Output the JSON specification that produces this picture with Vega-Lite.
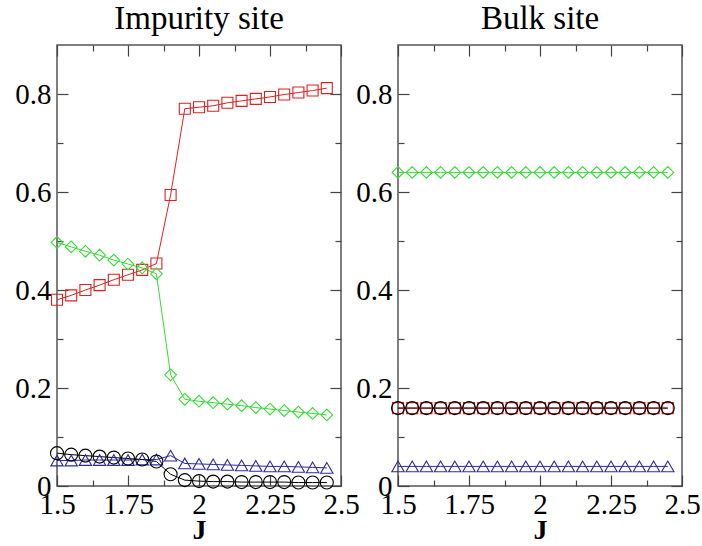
{
  "$schema": "https://vega.github.io/schema/vega-lite/v6.json",
  "padding": {"left": 14, "top": 2, "right": 0, "bottom": 0},
  "background": "white",
  "datasets": {
    "impurity": [
      {"series": "s1", "J": 1.5, "value": 0.380},
      {"series": "s1", "J": 1.55, "value": 0.389},
      {"series": "s1", "J": 1.6, "value": 0.400},
      {"series": "s1", "J": 1.65, "value": 0.410},
      {"series": "s1", "J": 1.7, "value": 0.421},
      {"series": "s1", "J": 1.75, "value": 0.431},
      {"series": "s1", "J": 1.8, "value": 0.441},
      {"series": "s1", "J": 1.85, "value": 0.454},
      {"series": "s1", "J": 1.9, "value": 0.594},
      {"series": "s1", "J": 1.95, "value": 0.770},
      {"series": "s1", "J": 2.0, "value": 0.773},
      {"series": "s1", "J": 2.05, "value": 0.776},
      {"series": "s1", "J": 2.1, "value": 0.782},
      {"series": "s1", "J": 2.15, "value": 0.786},
      {"series": "s1", "J": 2.2, "value": 0.790},
      {"series": "s1", "J": 2.25, "value": 0.794},
      {"series": "s1", "J": 2.3, "value": 0.799},
      {"series": "s1", "J": 2.35, "value": 0.803},
      {"series": "s1", "J": 2.4, "value": 0.807},
      {"series": "s1", "J": 2.45, "value": 0.812},
      {"series": "s2", "J": 1.5, "value": 0.497},
      {"series": "s2", "J": 1.55, "value": 0.488},
      {"series": "s2", "J": 1.6, "value": 0.479},
      {"series": "s2", "J": 1.65, "value": 0.471},
      {"series": "s2", "J": 1.7, "value": 0.461},
      {"series": "s2", "J": 1.75, "value": 0.453},
      {"series": "s2", "J": 1.8, "value": 0.445},
      {"series": "s2", "J": 1.85, "value": 0.433},
      {"series": "s2", "J": 1.9, "value": 0.227},
      {"series": "s2", "J": 1.95, "value": 0.177},
      {"series": "s2", "J": 2.0, "value": 0.173},
      {"series": "s2", "J": 2.05, "value": 0.170},
      {"series": "s2", "J": 2.1, "value": 0.167},
      {"series": "s2", "J": 2.15, "value": 0.164},
      {"series": "s2", "J": 2.2, "value": 0.160},
      {"series": "s2", "J": 2.25, "value": 0.157},
      {"series": "s2", "J": 2.3, "value": 0.154},
      {"series": "s2", "J": 2.35, "value": 0.151},
      {"series": "s2", "J": 2.4, "value": 0.148},
      {"series": "s2", "J": 2.45, "value": 0.145},
      {"series": "s3", "J": 1.5, "value": 0.052},
      {"series": "s3", "J": 1.55, "value": 0.052},
      {"series": "s3", "J": 1.6, "value": 0.053},
      {"series": "s3", "J": 1.65, "value": 0.053},
      {"series": "s3", "J": 1.7, "value": 0.053},
      {"series": "s3", "J": 1.75, "value": 0.053},
      {"series": "s3", "J": 1.8, "value": 0.054},
      {"series": "s3", "J": 1.85, "value": 0.054},
      {"series": "s3", "J": 1.9, "value": 0.062},
      {"series": "s3", "J": 1.95, "value": 0.046},
      {"series": "s3", "J": 2.0, "value": 0.045},
      {"series": "s3", "J": 2.05, "value": 0.044},
      {"series": "s3", "J": 2.1, "value": 0.043},
      {"series": "s3", "J": 2.15, "value": 0.042},
      {"series": "s3", "J": 2.2, "value": 0.041},
      {"series": "s3", "J": 2.25, "value": 0.040},
      {"series": "s3", "J": 2.3, "value": 0.040},
      {"series": "s3", "J": 2.35, "value": 0.039},
      {"series": "s3", "J": 2.4, "value": 0.038},
      {"series": "s3", "J": 2.45, "value": 0.037},
      {"series": "s4", "J": 1.5, "value": 0.067},
      {"series": "s4", "J": 1.55, "value": 0.064},
      {"series": "s4", "J": 1.6, "value": 0.062},
      {"series": "s4", "J": 1.65, "value": 0.060},
      {"series": "s4", "J": 1.7, "value": 0.058},
      {"series": "s4", "J": 1.75, "value": 0.056},
      {"series": "s4", "J": 1.8, "value": 0.054},
      {"series": "s4", "J": 1.85, "value": 0.050},
      {"series": "s4", "J": 1.9, "value": 0.024},
      {"series": "s4", "J": 1.95, "value": 0.012},
      {"series": "s4", "J": 2.0, "value": 0.010},
      {"series": "s4", "J": 2.05, "value": 0.009},
      {"series": "s4", "J": 2.1, "value": 0.009},
      {"series": "s4", "J": 2.15, "value": 0.008},
      {"series": "s4", "J": 2.2, "value": 0.008},
      {"series": "s4", "J": 2.25, "value": 0.008},
      {"series": "s4", "J": 2.3, "value": 0.008},
      {"series": "s4", "J": 2.35, "value": 0.007},
      {"series": "s4", "J": 2.4, "value": 0.007},
      {"series": "s4", "J": 2.45, "value": 0.007}
    ],
    "bulk": [
      {"series": "s1", "J": 1.5, "value": 0.159}, {"series": "s1", "J": 1.55, "value": 0.159},
      {"series": "s1", "J": 1.6, "value": 0.159}, {"series": "s1", "J": 1.65, "value": 0.159},
      {"series": "s1", "J": 1.7, "value": 0.159}, {"series": "s1", "J": 1.75, "value": 0.159},
      {"series": "s1", "J": 1.8, "value": 0.159}, {"series": "s1", "J": 1.85, "value": 0.159},
      {"series": "s1", "J": 1.9, "value": 0.159}, {"series": "s1", "J": 1.95, "value": 0.159},
      {"series": "s1", "J": 2.0, "value": 0.159}, {"series": "s1", "J": 2.05, "value": 0.159},
      {"series": "s1", "J": 2.1, "value": 0.159}, {"series": "s1", "J": 2.15, "value": 0.159},
      {"series": "s1", "J": 2.2, "value": 0.159}, {"series": "s1", "J": 2.25, "value": 0.159},
      {"series": "s1", "J": 2.3, "value": 0.159}, {"series": "s1", "J": 2.35, "value": 0.159},
      {"series": "s1", "J": 2.4, "value": 0.159}, {"series": "s1", "J": 2.45, "value": 0.159},
      {"series": "s2", "J": 1.5, "value": 0.640}, {"series": "s2", "J": 1.55, "value": 0.640},
      {"series": "s2", "J": 1.6, "value": 0.640}, {"series": "s2", "J": 1.65, "value": 0.640},
      {"series": "s2", "J": 1.7, "value": 0.640}, {"series": "s2", "J": 1.75, "value": 0.640},
      {"series": "s2", "J": 1.8, "value": 0.640}, {"series": "s2", "J": 1.85, "value": 0.640},
      {"series": "s2", "J": 1.9, "value": 0.640}, {"series": "s2", "J": 1.95, "value": 0.640},
      {"series": "s2", "J": 2.0, "value": 0.640}, {"series": "s2", "J": 2.05, "value": 0.640},
      {"series": "s2", "J": 2.1, "value": 0.640}, {"series": "s2", "J": 2.15, "value": 0.640},
      {"series": "s2", "J": 2.2, "value": 0.640}, {"series": "s2", "J": 2.25, "value": 0.640},
      {"series": "s2", "J": 2.3, "value": 0.640}, {"series": "s2", "J": 2.35, "value": 0.640},
      {"series": "s2", "J": 2.4, "value": 0.640}, {"series": "s2", "J": 2.45, "value": 0.640},
      {"series": "s3", "J": 1.5, "value": 0.040}, {"series": "s3", "J": 1.55, "value": 0.040},
      {"series": "s3", "J": 1.6, "value": 0.040}, {"series": "s3", "J": 1.65, "value": 0.040},
      {"series": "s3", "J": 1.7, "value": 0.040}, {"series": "s3", "J": 1.75, "value": 0.040},
      {"series": "s3", "J": 1.8, "value": 0.040}, {"series": "s3", "J": 1.85, "value": 0.040},
      {"series": "s3", "J": 1.9, "value": 0.040}, {"series": "s3", "J": 1.95, "value": 0.040},
      {"series": "s3", "J": 2.0, "value": 0.040}, {"series": "s3", "J": 2.05, "value": 0.040},
      {"series": "s3", "J": 2.1, "value": 0.040}, {"series": "s3", "J": 2.15, "value": 0.040},
      {"series": "s3", "J": 2.2, "value": 0.040}, {"series": "s3", "J": 2.25, "value": 0.040},
      {"series": "s3", "J": 2.3, "value": 0.040}, {"series": "s3", "J": 2.35, "value": 0.040},
      {"series": "s3", "J": 2.4, "value": 0.040}, {"series": "s3", "J": 2.45, "value": 0.040},
      {"series": "s4", "J": 1.5, "value": 0.159}, {"series": "s4", "J": 1.55, "value": 0.159},
      {"series": "s4", "J": 1.6, "value": 0.159}, {"series": "s4", "J": 1.65, "value": 0.159},
      {"series": "s4", "J": 1.7, "value": 0.159}, {"series": "s4", "J": 1.75, "value": 0.159},
      {"series": "s4", "J": 1.8, "value": 0.159}, {"series": "s4", "J": 1.85, "value": 0.159},
      {"series": "s4", "J": 1.9, "value": 0.159}, {"series": "s4", "J": 1.95, "value": 0.159},
      {"series": "s4", "J": 2.0, "value": 0.159}, {"series": "s4", "J": 2.05, "value": 0.159},
      {"series": "s4", "J": 2.1, "value": 0.159}, {"series": "s4", "J": 2.15, "value": 0.159},
      {"series": "s4", "J": 2.2, "value": 0.159}, {"series": "s4", "J": 2.25, "value": 0.159},
      {"series": "s4", "J": 2.3, "value": 0.159}, {"series": "s4", "J": 2.35, "value": 0.159},
      {"series": "s4", "J": 2.4, "value": 0.159}, {"series": "s4", "J": 2.45, "value": 0.159}
    ]
  },
  "bounds": "flush",
  "spacing": 57,
  "hconcat": [
    {
      "width": 284,
      "height": 441,
      "title": {"text": "Impurity site"},
      "data": {"name": "impurity"},
      "layer": [
        {
          "mark": {"type": "line", "strokeWidth": 1},
          "encoding": {
            "x": {"field": "J", "type": "quantitative", "scale": {"domain": [1.5, 2.5], "nice": false, "zero": false},
                  "axis": {"orient": "bottom", "values": [1.5, 1.75, 2, 2.25, 2.5], "labelExpr": "'' + datum.value", "tickSize": -11, "labelPadding": 15, "title": "J"}},
            "y": {"field": "value", "type": "quantitative", "scale": {"domain": [0, 0.9], "nice": false, "zero": false},
                  "axis": {"orient": "left", "values": [0, 0.2, 0.4, 0.6, 0.8], "labelExpr": "'' + datum.value", "tickSize": -11, "labelPadding": 17, "title": null}},
            "color": {"field": "series", "type": "nominal", "scale": {"domain": ["s1", "s2", "s3", "s4"], "range": ["#dd2222", "#33dd33", "#2a2aa8", "#000000"]}, "legend": null}
          }
        },
        {
          "mark": {"type": "point", "filled": false, "strokeWidth": 1.1, "opacity": 1},
          "encoding": {
            "x": {"field": "J", "type": "quantitative", "scale": {"domain": [1.5, 2.5], "nice": false, "zero": false},
                  "axis": {"orient": "bottom", "values": [1.625, 1.875, 2.125, 2.375], "labels": false, "tickSize": -6, "title": null}},
            "y": {"field": "value", "type": "quantitative", "scale": {"domain": [0, 0.9], "nice": false, "zero": false},
                  "axis": {"orient": "left", "values": [0.1, 0.3, 0.5, 0.7], "labels": false, "tickSize": -6, "title": null}},
            "color": {"field": "series", "type": "nominal", "scale": {"domain": ["s1", "s2", "s3", "s4"], "range": ["#dd2222", "#33dd33", "#2a2aa8", "#000000"]}, "legend": null},
            "shape": {"field": "series", "type": "nominal", "scale": {"domain": ["s1", "s2", "s3", "s4"], "range": ["square", "diamond", "triangle-up", "circle"]}, "legend": null},
            "size": {"field": "series", "type": "ordinal", "scale": {"domain": ["s1", "s2", "s3", "s4"], "range": [121, 169, 144, 81]}, "legend": null}
          }
        },
        {
          "mark": {"type": "point", "opacity": 0},
          "encoding": {
            "x": {"field": "J", "type": "quantitative", "scale": {"domain": [1.5, 2.5], "nice": false, "zero": false},
                  "axis": {"orient": "top", "values": [1.5, 1.75, 2, 2.25, 2.5], "labels": false, "tickSize": -11, "title": null}},
            "y": {"field": "value", "type": "quantitative", "scale": {"domain": [0, 0.9], "nice": false, "zero": false},
                  "axis": {"orient": "right", "values": [0, 0.2, 0.4, 0.6, 0.8], "labels": false, "tickSize": -11, "title": null}}
          }
        },
        {
          "mark": {"type": "point", "opacity": 0},
          "encoding": {
            "x": {"field": "J", "type": "quantitative", "scale": {"domain": [1.5, 2.5], "nice": false, "zero": false},
                  "axis": {"orient": "top", "values": [1.625, 1.875, 2.125, 2.375], "labels": false, "tickSize": -6, "title": null}},
            "y": {"field": "value", "type": "quantitative", "scale": {"domain": [0, 0.9], "nice": false, "zero": false},
                  "axis": {"orient": "right", "values": [0.1, 0.3, 0.5, 0.7], "labels": false, "tickSize": -6, "title": null}}
          }
        }
      ],
      "resolve": {"axis": {"x": "independent", "y": "independent"}}
    },
    {
      "width": 284,
      "height": 441,
      "title": {"text": "Bulk site"},
      "data": {"name": "bulk"},
      "layer": [
        {
          "mark": {"type": "line", "strokeWidth": 1},
          "encoding": {
            "x": {"field": "J", "type": "quantitative", "scale": {"domain": [1.5, 2.5], "nice": false, "zero": false},
                  "axis": {"orient": "bottom", "values": [1.5, 1.75, 2, 2.25, 2.5], "labelExpr": "'' + datum.value", "tickSize": -11, "labelPadding": 15, "title": "J"}},
            "y": {"field": "value", "type": "quantitative", "scale": {"domain": [0, 0.9], "nice": false, "zero": false},
                  "axis": {"orient": "left", "values": [0, 0.2, 0.4, 0.6, 0.8], "labelExpr": "'' + datum.value", "tickSize": -11, "labelPadding": 17, "title": null}},
            "color": {"field": "series", "type": "nominal", "scale": {"domain": ["s1", "s2", "s3", "s4"], "range": ["#dd2222", "#33dd33", "#2a2aa8", "#000000"]}, "legend": null}
          }
        },
        {
          "mark": {"type": "point", "filled": false, "strokeWidth": 1.1, "opacity": 1},
          "encoding": {
            "x": {"field": "J", "type": "quantitative", "scale": {"domain": [1.5, 2.5], "nice": false, "zero": false},
                  "axis": {"orient": "bottom", "values": [1.625, 1.875, 2.125, 2.375], "labels": false, "tickSize": -6, "title": null}},
            "y": {"field": "value", "type": "quantitative", "scale": {"domain": [0, 0.9], "nice": false, "zero": false},
                  "axis": {"orient": "left", "values": [0.1, 0.3, 0.5, 0.7], "labels": false, "tickSize": -6, "title": null}},
            "color": {"field": "series", "type": "nominal", "scale": {"domain": ["s1", "s2", "s3", "s4"], "range": ["#dd2222", "#33dd33", "#2a2aa8", "#000000"]}, "legend": null},
            "shape": {"field": "series", "type": "nominal", "scale": {"domain": ["s1", "s2", "s3", "s4"], "range": ["square", "diamond", "triangle-up", "circle"]}, "legend": null},
            "size": {"field": "series", "type": "ordinal", "scale": {"domain": ["s1", "s2", "s3", "s4"], "range": [121, 169, 144, 81]}, "legend": null}
          }
        },
        {
          "mark": {"type": "point", "opacity": 0},
          "encoding": {
            "x": {"field": "J", "type": "quantitative", "scale": {"domain": [1.5, 2.5], "nice": false, "zero": false},
                  "axis": {"orient": "top", "values": [1.5, 1.75, 2, 2.25, 2.5], "labels": false, "tickSize": -11, "title": null}},
            "y": {"field": "value", "type": "quantitative", "scale": {"domain": [0, 0.9], "nice": false, "zero": false},
                  "axis": {"orient": "right", "values": [0, 0.2, 0.4, 0.6, 0.8], "labels": false, "tickSize": -11, "title": null}}
          }
        },
        {
          "mark": {"type": "point", "opacity": 0},
          "encoding": {
            "x": {"field": "J", "type": "quantitative", "scale": {"domain": [1.5, 2.5], "nice": false, "zero": false},
                  "axis": {"orient": "top", "values": [1.625, 1.875, 2.125, 2.375], "labels": false, "tickSize": -6, "title": null}},
            "y": {"field": "value", "type": "quantitative", "scale": {"domain": [0, 0.9], "nice": false, "zero": false},
                  "axis": {"orient": "right", "values": [0.1, 0.3, 0.5, 0.7], "labels": false, "tickSize": -6, "title": null}}
          }
        }
      ],
      "resolve": {"axis": {"x": "independent", "y": "independent"}}
    }
  ],
  "config": {
    "view": {"stroke": "#555555", "strokeWidth": 1.5},
    "axis": {
      "domain": false,
      "grid": false,
      "tickColor": "#444444",
      "tickWidth": 1.2,
      "labelFont": "Liberation Serif, Times New Roman, DejaVu Serif, serif",
      "labelFontSize": 29,
      "labelColor": "#000000",
      "labelFlush": false,
      "labelOverlap": false,
      "titleFont": "Liberation Serif, Times New Roman, DejaVu Serif, serif",
      "titleFontSize": 28,
      "titleFontWeight": "bold",
      "titleColor": "#000000",
      "titlePadding": -3
    },
    "title": {
      "font": "Liberation Serif, Times New Roman, DejaVu Serif, serif",
      "fontSize": 33,
      "fontWeight": "normal",
      "color": "#000000",
      "baseline": "alphabetic",
      "offset": 8,
      "anchor": "middle"
    }
  }
}
